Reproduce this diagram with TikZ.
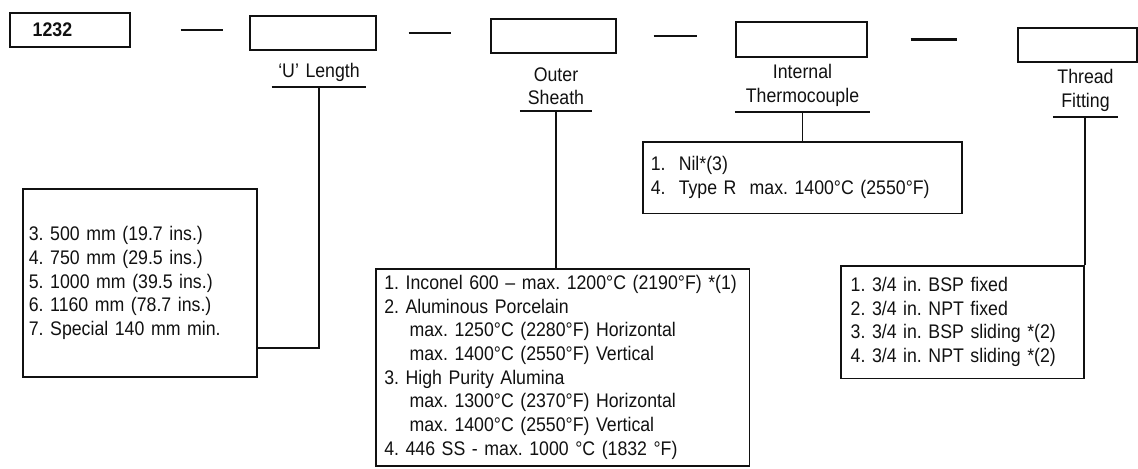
\documentclass[tikz,border=0pt]{standalone}
\usepackage{fontspec}
\setmainfont{Liberation Sans}[FakeStretch=0.9]
\usepackage{xcolor}
\definecolor{cInk}{HTML}{111111}
\usepackage{tikz}
\usetikzlibrary{positioning,calc}
\newcommand\diagfont{\fontsize{14}{16.8}\selectfont\frenchspacing}
\tikzset{
  code-box/.style={draw=cInk,line width=1.5pt,minimum height=24pt,inner sep=0pt},
  list-box/.style={draw=cInk,line width=1.2pt,align=left,inner ysep=0pt,anchor=north west},
  field-label/.style={align=center,inner xsep=0pt,inner ysep=4pt,anchor=south},
  under-line/.style={line width=1.3pt,draw=cInk},
  link/.style={line width=1pt,draw=cInk},
  sep-dash/.style={line width=1.5pt,draw=cInk},
}

\begin{document}
\begin{tikzpicture}[x=0.025cm,y=-0.025cm,font=\diagfont,text=cInk]
  \useasboundingbox (0,0) rectangle (1138,468);
  % code boxes along the top
  \node[code-box,text width=53pt,inner xsep=16pt,align=left,font=\diagfont\bfseries] (b1) at (70,30) {1232};
  \node[code-box,minimum width=89pt] (b2) at (313,33) {};
  \node[code-box,minimum width=88.6pt] (b3) at (553.5,36) {};
  \node[code-box,minimum width=92.8pt,minimum height=24.8pt] (b4) at (801.5,39.5) {};
  \node[code-box,minimum width=84.3pt] (b5) at (1077.5,45) {};
  \draw[sep-dash,shorten <=35.4pt,shorten >=18.4pt] (b1.east) -- (b1.east -| b2.west);
  \draw[sep-dash,shorten <=22.7pt,shorten >=27.6pt] (b2.east) -- (b2.east -| b3.west);
  \draw[sep-dash,shorten <=26.2pt,shorten >=26.9pt] (b3.east) -- (b3.east -| b4.west);
  \draw[sep-dash,shorten <=30.5pt,shorten >=42.5pt] (b4.east) -- (b4.east -| b5.west);

  % field labels
  \node[field-label,text width=67pt] (ulen) at (319,87) {`U' Length};
  \node[field-label,text width=51pt] (sheath) at (556,111) {Outer\\Sheath};
  \node[field-label,text width=95.7pt] (thermo) at (802.5,112) {Internal\\Thermocouple};
  \node[field-label,text width=46pt] (thread) at (1085.5,117) {Thread\\Fitting};
  \foreach \lbl in {ulen,sheath,thermo,thread}
    \draw[under-line] (\lbl.south west) -- (\lbl.south east);

  % option lists
  \node[list-box,text width=158pt,inner xsep=4.3pt,minimum height=134pt] (lenbox) at (22,188) {%
    3. 500 mm (19.7 ins.)\\
    4. 750 mm (29.5 ins.)\\
    5. 1000 mm (39.5 ins.)\\
    6. 1160 mm (78.7 ins.)\\
    7. Special 140 mm min.};
  \node[list-box,text width=253.8pt,inner xsep=6pt,minimum height=140pt] (sbox) at (375,268) {%
    1. Inconel 600 – max. 1200°C (2190°F) *(1)\\
    2. Aluminous Porcelain\\
    \hspace*{18pt}max. 1250°C (2280°F) Horizontal\\
    \hspace*{18pt}max. 1400°C (2550°F) Vertical\\
    3. High Purity Alumina\\
    \hspace*{18pt}max. 1300°C (2370°F) Horizontal\\
    \hspace*{18pt}max. 1400°C (2550°F) Vertical\\
    4. 446 SS - max. 1000 °C (1832 °F)};
  \node[list-box,text width=215.4pt,inner xsep=5.7pt,minimum height=51pt] (tbox) at (642,141) {%
    1.\ \ Nil*(3)\\
    4.\ \ Type R\ \ max. 1400°C (2550°F)};
  \node[list-box,text width=159pt,inner xsep=7pt,minimum height=80pt] (fbox) at (840,265) {%
    1. 3/4 in. BSP fixed\\
    2. 3/4 in. NPT fixed\\
    3. 3/4 in. BSP sliding *(2)\\
    4. 3/4 in. NPT sliding *(2)};

  % leaders
  \coordinate (ulevel) at (0,348);
  \draw[link] (ulen.south) |- (lenbox.east |- ulevel);
  \draw[link] (sheath.south) -- (sheath.south |- sbox.north);
  \draw[link] (thermo.south) -- (thermo.south |- tbox.north);
  \draw[link] (fbox.north east |- thread.south) -- (fbox.north east);
\end{tikzpicture}
\end{document}
